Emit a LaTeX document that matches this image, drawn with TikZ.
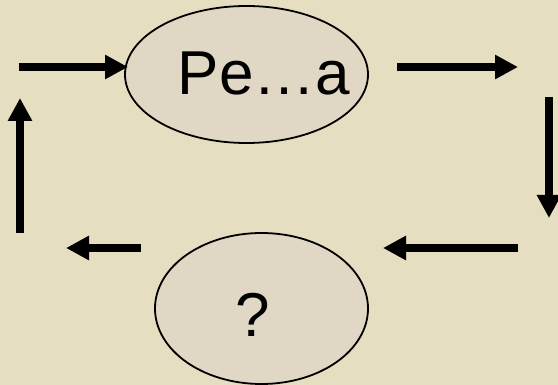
\documentclass[tikz,border=0pt]{standalone}
\usepackage{fontspec}
\setmainfont{Liberation Sans}
\usetikzlibrary{arrows.meta,shapes.geometric}
\definecolor{bg}{RGB}{230,222,192}
\definecolor{ellfill}{RGB}{224,216,196}
\begin{document}
\begin{tikzpicture}[x=1pt,y=-1pt,
  bubble/.style={ellipse, draw=black, line width=1.8pt, fill=ellfill, inner sep=0pt},
  lbl/.style={font=\fontsize{62}{62}\selectfont, inner sep=0pt, anchor=base},
  flow/.style={line width=8pt, -{Triangle[length=23pt,width=23pt]}}]
\fill[bg] (0,0) rectangle (558,385);
\useasboundingbox (0,0) rectangle (558,385);
\node[bubble, minimum width=243pt, minimum height=137pt] (top) at (246.5,74.5) {};
\node[bubble, minimum width=213pt, minimum height=151pt] (bot) at (261.5,308.5) {};
\node[lbl] (toptext) at (264,95) {Pe…a};
\node[lbl] (bottext) at (252.5,337) {?};
\coordinate (a1s) at (19,67);
\coordinate (a1e) at (128,67);
\coordinate (a2s) at (397,67);
\coordinate (a2e) at (518,67);
\coordinate (a3s) at (549,97);
\coordinate (a3e) at (549,218);
\coordinate (a4s) at (518,248);
\coordinate (a4e) at (383,248);
\coordinate (a5s) at (141,248);
\coordinate (a5e) at (66,248);
\coordinate (a6s) at (20,233);
\coordinate (a6e) at (20,98);
\draw[flow] (a1s) -- (a1e);
\draw[flow] (a2s) -- (a2e);
\draw[flow] (a3s) -- (a3e);
\draw[flow] (a4s) -- (a4e);
\draw[flow] (a5s) -- (a5e);
\draw[flow] (a6s) -- (a6e);
\end{tikzpicture}
\end{document}
